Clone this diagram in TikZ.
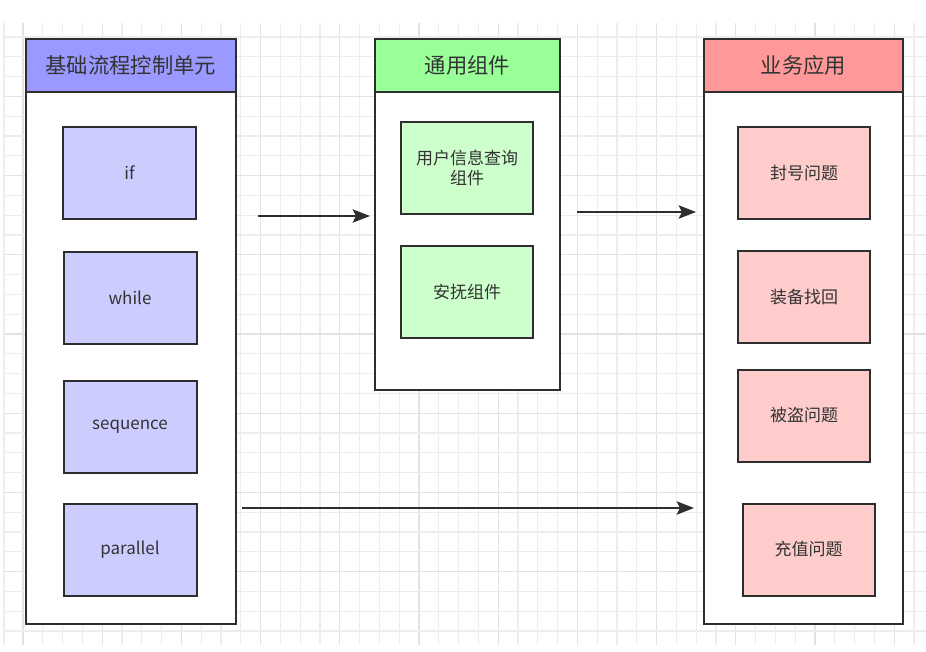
\documentclass[tikz,border=0pt]{standalone}
\usepackage{fontspec}
\newfontfamily\cjk{Noto Sans CJK SC}
\usetikzlibrary{arrows.meta}
\definecolor{gridminor}{HTML}{EDEDED}
\definecolor{gridmajor}{HTML}{E2E2E2}
\definecolor{edge}{HTML}{2E2E2E}
\definecolor{txt}{HTML}{333333}
\definecolor{blueH}{HTML}{9999FF}
\definecolor{blueB}{HTML}{CCCCFF}
\definecolor{greenH}{HTML}{99FF99}
\definecolor{greenB}{HTML}{CCFFCC}
\definecolor{redH}{HTML}{FF9999}
\definecolor{redB}{HTML}{FFCCCC}
\tikzset{
  gridline/.style={draw=gridminor, line width=0.9pt},
  gridmaj/.style={draw=gridmajor, line width=0.9pt},
  frame/.style={draw=edge, line width=1.5pt, rectangle, inner sep=0pt, outer sep=0pt},
  header/.style={frame, text=txt, font=\cjk\fontsize{16pt}{19pt}\selectfont},
  body/.style={frame, fill=white},
  item/.style={frame, minimum width=133*0.75pt, minimum height=92*0.75pt, text=txt, align=center, font=\cjk\fontsize{12.75pt}{15pt}\selectfont},
  arr/.style={draw=edge, line width=1.5pt, -{Stealth[length=13pt,width=10pt,inset=2.5pt]}}
}
\begin{document}
\begin{tikzpicture}[x=0.75pt,y=-0.75pt]
\useasboundingbox[fill=white] (0,0) rectangle (926,651);
% grid
\foreach \k in {0,...,45}{
  \pgfmathsetmacro\xx{23+19.8*\k}
  \pgfmathtruncatemacro\mm{mod(\k,4)}
  \ifnum\mm=0 \draw[gridmaj] (\xx,23) -- (\xx,645); \else \draw[gridline] (\xx,23) -- (\xx,645); \fi
}
\draw[gridline] (4,23) -- (4,645);
\foreach \k in {0,...,30}{
  \pgfmathsetmacro\yy{37+19.8*\k}
  \pgfmathtruncatemacro\mm{mod(\k,4)}
  \ifnum\mm=3 \draw[gridmaj] (5,\yy) -- (926,\yy); \else \draw[gridline] (5,\yy) -- (926,\yy); \fi
}
% left container
\node[body, anchor=north west, minimum width=210*0.75pt, minimum height=532*0.75pt] (lbody) at (26,92) {};
\node[header, fill=blueH, anchor=north west, minimum width=210*0.75pt, minimum height=53*0.75pt] (lhead) at (26,39) {基础流程控制单元};
\node[item, fill=blueB] (if) at (129.5,173) {if};
\node[item, fill=blueB] (while) at (130,298) {while};
\node[item, fill=blueB] (seq) at (130,427) {sequence};
\node[item, fill=blueB] (par) at (130,549.5) {parallel};
% middle container
\node[body, anchor=north west, minimum width=185*0.75pt, minimum height=298*0.75pt] (mbody) at (375,92) {};
\node[header, fill=greenH, anchor=north west, minimum width=185*0.75pt, minimum height=53*0.75pt] (mhead) at (375,39) {通用组件};
\node[item, fill=greenB, minimum width=132*0.75pt] (user) at (467,168) {用户信息查询\\组件};
\node[item, fill=greenB, minimum width=132*0.75pt] (calm) at (467,292) {安抚组件};
% right container
\node[body, anchor=north west, minimum width=199*0.75pt, minimum height=532*0.75pt] (rbody) at (704,92) {};
\node[header, fill=redH, anchor=north west, minimum width=199*0.75pt, minimum height=53*0.75pt] (rhead) at (704,39) {业务应用};
\node[item, fill=redB, minimum width=132*0.75pt] (ban) at (804,173) {封号问题};
\node[item, fill=redB, minimum width=132*0.75pt] (equip) at (804,297) {装备找回};
\node[item, fill=redB, minimum width=132*0.75pt] (stolen) at (804,415.5) {被盗问题};
\node[item, fill=redB, minimum width=132*0.75pt] (pay) at (808.5,549.5) {充值问题};
% arrows
\coordinate (a1) at (258,216);
\coordinate (a2) at (577,212);
\coordinate (a3) at (242,508);
\draw[arr, shorten >=5*0.75pt] (a1) -- (a1 -| mbody.west);
\draw[arr, shorten >=8*0.75pt] (a2) -- (a2 -| rbody.west);
\draw[arr, shorten >=10*0.75pt] (a3) -- (a3 -| rbody.west);
\end{tikzpicture}
\end{document}
